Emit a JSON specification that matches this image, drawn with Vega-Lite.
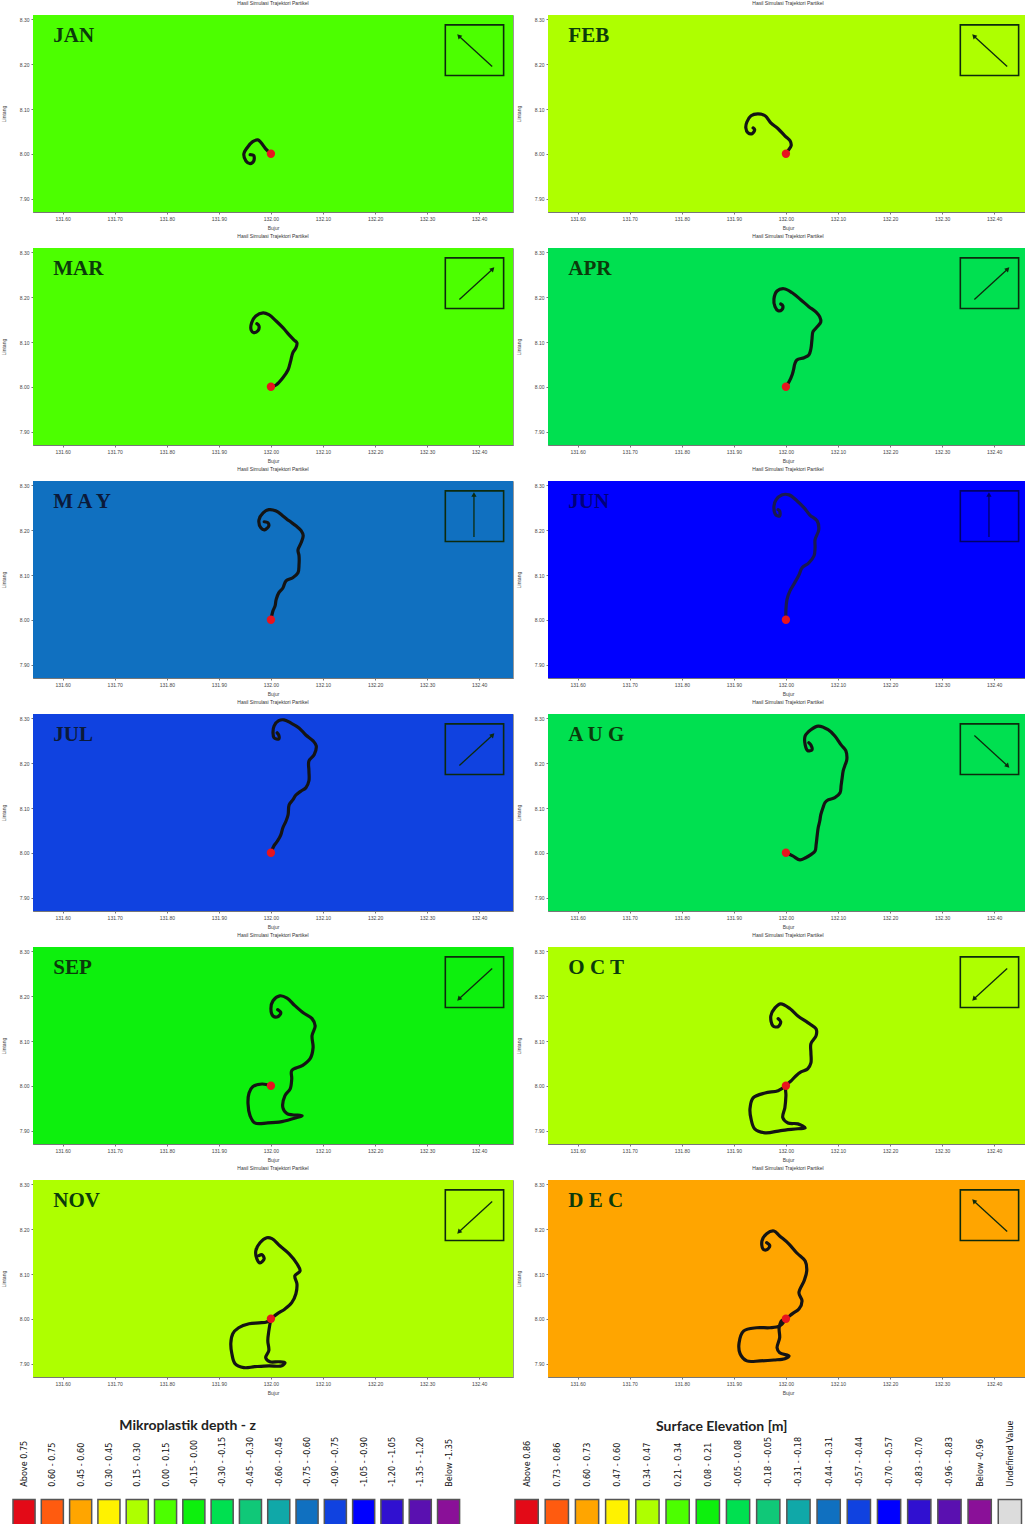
{
"$schema": "https://vega.github.io/schema/vega-lite/v6.json",
"padding": 0,
"background": "white",
"spacing": 23,
"columns": 1,
"align": "none",
"resolve": {"scale": {"x": "independent", "y": "independent", "color": "independent"}},
"config": {
  "view": {"stroke": "#999"},
  "axis": {"labelFontSize": 5, "titleFontSize": 5, "labelColor": "#444", "titleColor": "#444", "domainColor": "#777", "tickColor": "#777", "tickSize": 2, "gridColor": "#103a10", "gridOpacity": 0.22, "gridWidth": 0.6, "labelFont": "Liberation Sans", "titleFont": "Liberation Sans", "titleFontWeight": "normal", "zindex": 1, "labelOverlap": false},
  "axisY": {"minExtent": 26, "maxExtent": 26, "titlePadding": 1},
  "axisX": {"minExtent": 12, "maxExtent": 12, "titlePadding": 1}
},
"concat": [
{
  "data": {"values": [
    {"kind":"p","month":"JAN","label":"JAN","bg":"0.21 - 0.34","lon1":132.425,"lat1":8.195,"lon2":132.362,"lat2":8.262,"dir":315},
    {"kind":"p","month":"FEB","label":"FEB","bg":"0.34 - 0.47","lon1":132.425,"lat1":8.195,"lon2":132.362,"lat2":8.262,"dir":315},
    {"kind":"p","month":"MAR","label":"MAR","bg":"0.21 - 0.34","lon1":132.362,"lat1":8.195,"lon2":132.425,"lat2":8.262,"dir":45},
    {"kind":"p","month":"APR","label":"APR","bg":"-0.05 - 0.08","lon1":132.362,"lat1":8.195,"lon2":132.425,"lat2":8.262,"dir":45},
    {"kind":"p","month":"MAY","label":"M A Y","bg":"-0.44 - -0.31","lon1":132.39,"lat1":8.185,"lon2":132.39,"lat2":8.278,"dir":0},
    {"kind":"p","month":"JUN","label":"JUN","bg":"-0.70 - -0.57","lon1":132.39,"lat1":8.185,"lon2":132.39,"lat2":8.278,"dir":0},
    {"kind":"p","month":"JUL","label":"JUL","bg":"-0.57 - -0.44","lon1":132.362,"lat1":8.195,"lon2":132.425,"lat2":8.262,"dir":45},
    {"kind":"p","month":"AUG","label":"A U G","bg":"-0.05 - 0.08","lon1":132.362,"lat1":8.262,"lon2":132.425,"lat2":8.195,"dir":135},
    {"kind":"p","month":"SEP","label":"SEP","bg":"0.08 - 0.21","lon1":132.425,"lat1":8.262,"lon2":132.362,"lat2":8.195,"dir":225},
    {"kind":"p","month":"OCT","label":"O C T","bg":"0.34 - 0.47","lon1":132.425,"lat1":8.262,"lon2":132.362,"lat2":8.195,"dir":225},
    {"kind":"p","month":"NOV","label":"NOV","bg":"0.34 - 0.47","lon1":132.425,"lat1":8.262,"lon2":132.362,"lat2":8.195,"dir":225},
    {"kind":"p","month":"DEC","label":"D E C","bg":"0.60 - 0.73","lon1":132.425,"lat1":8.195,"lon2":132.362,"lat2":8.262,"dir":315},

    {"kind":"t","month":"JAN","i":0,"lon":132.000,"lat":8.000},
    {"kind":"t","month":"JAN","i":1,"lon":131.990,"lat":8.011},
    {"kind":"t","month":"JAN","i":2,"lon":131.981,"lat":8.025},
    {"kind":"t","month":"JAN","i":3,"lon":131.975,"lat":8.031},
    {"kind":"t","month":"JAN","i":4,"lon":131.965,"lat":8.027},
    {"kind":"t","month":"JAN","i":5,"lon":131.954,"lat":8.013},
    {"kind":"t","month":"JAN","i":6,"lon":131.948,"lat":8.000},
    {"kind":"t","month":"JAN","i":7,"lon":131.952,"lat":7.984},
    {"kind":"t","month":"JAN","i":8,"lon":131.960,"lat":7.978},
    {"kind":"t","month":"JAN","i":9,"lon":131.967,"lat":7.984},
    {"kind":"t","month":"JAN","i":10,"lon":131.967,"lat":7.996},
    {"kind":"t","month":"JAN","i":11,"lon":131.960,"lat":7.998},

    {"kind":"t","month":"FEB","i":0,"lon":132.000,"lat":8.000},
    {"kind":"t","month":"FEB","i":1,"lon":132.004,"lat":8.007},
    {"kind":"t","month":"FEB","i":2,"lon":132.010,"lat":8.018},
    {"kind":"t","month":"FEB","i":3,"lon":132.008,"lat":8.029},
    {"kind":"t","month":"FEB","i":4,"lon":131.998,"lat":8.040},
    {"kind":"t","month":"FEB","i":5,"lon":131.985,"lat":8.056},
    {"kind":"t","month":"FEB","i":6,"lon":131.971,"lat":8.069},
    {"kind":"t","month":"FEB","i":7,"lon":131.960,"lat":8.085},
    {"kind":"t","month":"FEB","i":8,"lon":131.946,"lat":8.089},
    {"kind":"t","month":"FEB","i":9,"lon":131.933,"lat":8.085},
    {"kind":"t","month":"FEB","i":10,"lon":131.925,"lat":8.071},
    {"kind":"t","month":"FEB","i":11,"lon":131.923,"lat":8.058},
    {"kind":"t","month":"FEB","i":12,"lon":131.927,"lat":8.047},
    {"kind":"t","month":"FEB","i":13,"lon":131.935,"lat":8.045},
    {"kind":"t","month":"FEB","i":14,"lon":131.940,"lat":8.054},
    {"kind":"t","month":"FEB","i":15,"lon":131.937,"lat":8.058},

    {"kind":"t","month":"MAR","i":0,"lon":132.000,"lat":8.000},
    {"kind":"t","month":"MAR","i":1,"lon":132.010,"lat":8.004},
    {"kind":"t","month":"MAR","i":2,"lon":132.023,"lat":8.020},
    {"kind":"t","month":"MAR","i":3,"lon":132.033,"lat":8.038},
    {"kind":"t","month":"MAR","i":4,"lon":132.038,"lat":8.058},
    {"kind":"t","month":"MAR","i":5,"lon":132.042,"lat":8.076},
    {"kind":"t","month":"MAR","i":6,"lon":132.048,"lat":8.087},
    {"kind":"t","month":"MAR","i":7,"lon":132.050,"lat":8.098},
    {"kind":"t","month":"MAR","i":8,"lon":132.044,"lat":8.105},
    {"kind":"t","month":"MAR","i":9,"lon":132.035,"lat":8.116},
    {"kind":"t","month":"MAR","i":10,"lon":132.023,"lat":8.132},
    {"kind":"t","month":"MAR","i":11,"lon":132.010,"lat":8.147},
    {"kind":"t","month":"MAR","i":12,"lon":131.996,"lat":8.161},
    {"kind":"t","month":"MAR","i":13,"lon":131.985,"lat":8.165},
    {"kind":"t","month":"MAR","i":14,"lon":131.971,"lat":8.158},
    {"kind":"t","month":"MAR","i":15,"lon":131.963,"lat":8.143},
    {"kind":"t","month":"MAR","i":16,"lon":131.962,"lat":8.127},
    {"kind":"t","month":"MAR","i":17,"lon":131.967,"lat":8.121},
    {"kind":"t","month":"MAR","i":18,"lon":131.975,"lat":8.125},
    {"kind":"t","month":"MAR","i":19,"lon":131.977,"lat":8.136},
    {"kind":"t","month":"MAR","i":20,"lon":131.973,"lat":8.141},

    {"kind":"t","month":"APR","i":0,"lon":132.000,"lat":8.000},
    {"kind":"t","month":"APR","i":1,"lon":132.006,"lat":8.011},
    {"kind":"t","month":"APR","i":2,"lon":132.012,"lat":8.027},
    {"kind":"t","month":"APR","i":3,"lon":132.015,"lat":8.040},
    {"kind":"t","month":"APR","i":4,"lon":132.017,"lat":8.051},
    {"kind":"t","month":"APR","i":5,"lon":132.021,"lat":8.060},
    {"kind":"t","month":"APR","i":6,"lon":132.035,"lat":8.065},
    {"kind":"t","month":"APR","i":7,"lon":132.044,"lat":8.071},
    {"kind":"t","month":"APR","i":8,"lon":132.048,"lat":8.085},
    {"kind":"t","month":"APR","i":9,"lon":132.050,"lat":8.105},
    {"kind":"t","month":"APR","i":10,"lon":132.052,"lat":8.123},
    {"kind":"t","month":"APR","i":11,"lon":132.060,"lat":8.134},
    {"kind":"t","month":"APR","i":12,"lon":132.067,"lat":8.145},
    {"kind":"t","month":"APR","i":13,"lon":132.065,"lat":8.156},
    {"kind":"t","month":"APR","i":14,"lon":132.058,"lat":8.167},
    {"kind":"t","month":"APR","i":15,"lon":132.044,"lat":8.179},
    {"kind":"t","month":"APR","i":16,"lon":132.029,"lat":8.194},
    {"kind":"t","month":"APR","i":17,"lon":132.012,"lat":8.210},
    {"kind":"t","month":"APR","i":18,"lon":131.996,"lat":8.219},
    {"kind":"t","month":"APR","i":19,"lon":131.983,"lat":8.214},
    {"kind":"t","month":"APR","i":20,"lon":131.977,"lat":8.196},
    {"kind":"t","month":"APR","i":21,"lon":131.979,"lat":8.179},
    {"kind":"t","month":"APR","i":22,"lon":131.985,"lat":8.170},
    {"kind":"t","month":"APR","i":23,"lon":131.992,"lat":8.172},
    {"kind":"t","month":"APR","i":24,"lon":131.994,"lat":8.181},
    {"kind":"t","month":"APR","i":25,"lon":131.990,"lat":8.185},

    {"kind":"t","month":"MAY","i":0,"lon":132.000,"lat":8.000},
    {"kind":"t","month":"MAY","i":1,"lon":132.004,"lat":8.020},
    {"kind":"t","month":"MAY","i":2,"lon":132.008,"lat":8.031},
    {"kind":"t","month":"MAY","i":3,"lon":132.010,"lat":8.045},
    {"kind":"t","month":"MAY","i":4,"lon":132.015,"lat":8.060},
    {"kind":"t","month":"MAY","i":5,"lon":132.023,"lat":8.071},
    {"kind":"t","month":"MAY","i":6,"lon":132.029,"lat":8.087},
    {"kind":"t","month":"MAY","i":7,"lon":132.042,"lat":8.094},
    {"kind":"t","month":"MAY","i":8,"lon":132.052,"lat":8.105},
    {"kind":"t","month":"MAY","i":9,"lon":132.054,"lat":8.123},
    {"kind":"t","month":"MAY","i":10,"lon":132.054,"lat":8.143},
    {"kind":"t","month":"MAY","i":11,"lon":132.052,"lat":8.156},
    {"kind":"t","month":"MAY","i":12,"lon":132.058,"lat":8.172},
    {"kind":"t","month":"MAY","i":13,"lon":132.062,"lat":8.188},
    {"kind":"t","month":"MAY","i":14,"lon":132.058,"lat":8.199},
    {"kind":"t","month":"MAY","i":15,"lon":132.048,"lat":8.210},
    {"kind":"t","month":"MAY","i":16,"lon":132.035,"lat":8.221},
    {"kind":"t","month":"MAY","i":17,"lon":132.023,"lat":8.232},
    {"kind":"t","month":"MAY","i":18,"lon":132.010,"lat":8.243},
    {"kind":"t","month":"MAY","i":19,"lon":131.996,"lat":8.246},
    {"kind":"t","month":"MAY","i":20,"lon":131.985,"lat":8.239},
    {"kind":"t","month":"MAY","i":21,"lon":131.977,"lat":8.223},
    {"kind":"t","month":"MAY","i":22,"lon":131.981,"lat":8.205},
    {"kind":"t","month":"MAY","i":23,"lon":131.988,"lat":8.201},
    {"kind":"t","month":"MAY","i":24,"lon":131.996,"lat":8.210},
    {"kind":"t","month":"MAY","i":25,"lon":131.994,"lat":8.217},
    {"kind":"t","month":"MAY","i":26,"lon":131.987,"lat":8.219},

    {"kind":"t","month":"JUN","i":0,"lon":132.000,"lat":8.000},
    {"kind":"t","month":"JUN","i":1,"lon":132.000,"lat":8.022},
    {"kind":"t","month":"JUN","i":2,"lon":132.002,"lat":8.045},
    {"kind":"t","month":"JUN","i":3,"lon":132.008,"lat":8.065},
    {"kind":"t","month":"JUN","i":4,"lon":132.017,"lat":8.083},
    {"kind":"t","month":"JUN","i":5,"lon":132.025,"lat":8.100},
    {"kind":"t","month":"JUN","i":6,"lon":132.031,"lat":8.116},
    {"kind":"t","month":"JUN","i":7,"lon":132.044,"lat":8.127},
    {"kind":"t","month":"JUN","i":8,"lon":132.054,"lat":8.143},
    {"kind":"t","month":"JUN","i":9,"lon":132.056,"lat":8.161},
    {"kind":"t","month":"JUN","i":10,"lon":132.056,"lat":8.179},
    {"kind":"t","month":"JUN","i":11,"lon":132.063,"lat":8.201},
    {"kind":"t","month":"JUN","i":12,"lon":132.060,"lat":8.221},
    {"kind":"t","month":"JUN","i":13,"lon":132.046,"lat":8.234},
    {"kind":"t","month":"JUN","i":14,"lon":132.035,"lat":8.250},
    {"kind":"t","month":"JUN","i":15,"lon":132.021,"lat":8.266},
    {"kind":"t","month":"JUN","i":16,"lon":132.006,"lat":8.279},
    {"kind":"t","month":"JUN","i":17,"lon":131.992,"lat":8.279},
    {"kind":"t","month":"JUN","i":18,"lon":131.981,"lat":8.268},
    {"kind":"t","month":"JUN","i":19,"lon":131.977,"lat":8.254},
    {"kind":"t","month":"JUN","i":20,"lon":131.981,"lat":8.234},
    {"kind":"t","month":"JUN","i":21,"lon":131.988,"lat":8.232},
    {"kind":"t","month":"JUN","i":22,"lon":131.988,"lat":8.243},
    {"kind":"t","month":"JUN","i":23,"lon":131.985,"lat":8.246},

    {"kind":"t","month":"JUL","i":0,"lon":132.000,"lat":8.000},
    {"kind":"t","month":"JUL","i":1,"lon":132.006,"lat":8.016},
    {"kind":"t","month":"JUL","i":2,"lon":132.013,"lat":8.027},
    {"kind":"t","month":"JUL","i":3,"lon":132.019,"lat":8.040},
    {"kind":"t","month":"JUL","i":4,"lon":132.023,"lat":8.056},
    {"kind":"t","month":"JUL","i":5,"lon":132.029,"lat":8.071},
    {"kind":"t","month":"JUL","i":6,"lon":132.033,"lat":8.085},
    {"kind":"t","month":"JUL","i":7,"lon":132.035,"lat":8.107},
    {"kind":"t","month":"JUL","i":8,"lon":132.042,"lat":8.118},
    {"kind":"t","month":"JUL","i":9,"lon":132.048,"lat":8.129},
    {"kind":"t","month":"JUL","i":10,"lon":132.058,"lat":8.138},
    {"kind":"t","month":"JUL","i":11,"lon":132.067,"lat":8.145},
    {"kind":"t","month":"JUL","i":12,"lon":132.073,"lat":8.161},
    {"kind":"t","month":"JUL","i":13,"lon":132.073,"lat":8.183},
    {"kind":"t","month":"JUL","i":14,"lon":132.073,"lat":8.205},
    {"kind":"t","month":"JUL","i":15,"lon":132.083,"lat":8.219},
    {"kind":"t","month":"JUL","i":16,"lon":132.087,"lat":8.239},
    {"kind":"t","month":"JUL","i":17,"lon":132.081,"lat":8.250},
    {"kind":"t","month":"JUL","i":18,"lon":132.067,"lat":8.263},
    {"kind":"t","month":"JUL","i":19,"lon":132.054,"lat":8.279},
    {"kind":"t","month":"JUL","i":20,"lon":132.038,"lat":8.290},
    {"kind":"t","month":"JUL","i":21,"lon":132.025,"lat":8.297},
    {"kind":"t","month":"JUL","i":22,"lon":132.015,"lat":8.295},
    {"kind":"t","month":"JUL","i":23,"lon":132.006,"lat":8.283},
    {"kind":"t","month":"JUL","i":24,"lon":132.004,"lat":8.268},
    {"kind":"t","month":"JUL","i":25,"lon":132.006,"lat":8.257},
    {"kind":"t","month":"JUL","i":26,"lon":132.015,"lat":8.254},
    {"kind":"t","month":"JUL","i":27,"lon":132.015,"lat":8.263},
    {"kind":"t","month":"JUL","i":28,"lon":132.012,"lat":8.268},

    {"kind":"t","month":"AUG","i":0,"lon":132.000,"lat":8.000},
    {"kind":"t","month":"AUG","i":1,"lon":132.013,"lat":7.993},
    {"kind":"t","month":"AUG","i":2,"lon":132.027,"lat":7.984},
    {"kind":"t","month":"AUG","i":3,"lon":132.038,"lat":7.989},
    {"kind":"t","month":"AUG","i":4,"lon":132.048,"lat":7.996},
    {"kind":"t","month":"AUG","i":5,"lon":132.056,"lat":8.004},
    {"kind":"t","month":"AUG","i":6,"lon":132.058,"lat":8.018},
    {"kind":"t","month":"AUG","i":7,"lon":132.060,"lat":8.038},
    {"kind":"t","month":"AUG","i":8,"lon":132.062,"lat":8.056},
    {"kind":"t","month":"AUG","i":9,"lon":132.065,"lat":8.071},
    {"kind":"t","month":"AUG","i":10,"lon":132.067,"lat":8.085},
    {"kind":"t","month":"AUG","i":11,"lon":132.071,"lat":8.100},
    {"kind":"t","month":"AUG","i":12,"lon":132.075,"lat":8.112},
    {"kind":"t","month":"AUG","i":13,"lon":132.081,"lat":8.118},
    {"kind":"t","month":"AUG","i":14,"lon":132.094,"lat":8.123},
    {"kind":"t","month":"AUG","i":15,"lon":132.104,"lat":8.134},
    {"kind":"t","month":"AUG","i":16,"lon":132.106,"lat":8.150},
    {"kind":"t","month":"AUG","i":17,"lon":132.108,"lat":8.167},
    {"kind":"t","month":"AUG","i":18,"lon":132.110,"lat":8.183},
    {"kind":"t","month":"AUG","i":19,"lon":132.113,"lat":8.194},
    {"kind":"t","month":"AUG","i":20,"lon":132.117,"lat":8.208},
    {"kind":"t","month":"AUG","i":21,"lon":132.115,"lat":8.228},
    {"kind":"t","month":"AUG","i":22,"lon":132.106,"lat":8.241},
    {"kind":"t","month":"AUG","i":23,"lon":132.094,"lat":8.261},
    {"kind":"t","month":"AUG","i":24,"lon":132.081,"lat":8.275},
    {"kind":"t","month":"AUG","i":25,"lon":132.062,"lat":8.283},
    {"kind":"t","month":"AUG","i":26,"lon":132.048,"lat":8.275},
    {"kind":"t","month":"AUG","i":27,"lon":132.037,"lat":8.261},
    {"kind":"t","month":"AUG","i":28,"lon":132.037,"lat":8.241},
    {"kind":"t","month":"AUG","i":29,"lon":132.042,"lat":8.228},
    {"kind":"t","month":"AUG","i":30,"lon":132.050,"lat":8.230},
    {"kind":"t","month":"AUG","i":31,"lon":132.048,"lat":8.241},
    {"kind":"t","month":"AUG","i":32,"lon":132.044,"lat":8.246},

    {"kind":"t","month":"SEP","i":0,"lon":132.000,"lat":8.000},
    {"kind":"t","month":"SEP","i":1,"lon":131.983,"lat":8.004},
    {"kind":"t","month":"SEP","i":2,"lon":131.965,"lat":7.998},
    {"kind":"t","month":"SEP","i":3,"lon":131.958,"lat":7.984},
    {"kind":"t","month":"SEP","i":4,"lon":131.956,"lat":7.960},
    {"kind":"t","month":"SEP","i":5,"lon":131.960,"lat":7.933},
    {"kind":"t","month":"SEP","i":6,"lon":131.969,"lat":7.917},
    {"kind":"t","month":"SEP","i":7,"lon":131.994,"lat":7.917},
    {"kind":"t","month":"SEP","i":8,"lon":132.021,"lat":7.920},
    {"kind":"t","month":"SEP","i":9,"lon":132.050,"lat":7.929},
    {"kind":"t","month":"SEP","i":10,"lon":132.060,"lat":7.933},
    {"kind":"t","month":"SEP","i":11,"lon":132.031,"lat":7.938},
    {"kind":"t","month":"SEP","i":12,"lon":132.023,"lat":7.951},
    {"kind":"t","month":"SEP","i":13,"lon":132.027,"lat":7.978},
    {"kind":"t","month":"SEP","i":14,"lon":132.037,"lat":7.993},
    {"kind":"t","month":"SEP","i":15,"lon":132.040,"lat":8.016},
    {"kind":"t","month":"SEP","i":16,"lon":132.040,"lat":8.034},
    {"kind":"t","month":"SEP","i":17,"lon":132.060,"lat":8.045},
    {"kind":"t","month":"SEP","i":18,"lon":132.075,"lat":8.060},
    {"kind":"t","month":"SEP","i":19,"lon":132.081,"lat":8.085},
    {"kind":"t","month":"SEP","i":20,"lon":132.079,"lat":8.112},
    {"kind":"t","month":"SEP","i":21,"lon":132.085,"lat":8.134},
    {"kind":"t","month":"SEP","i":22,"lon":132.079,"lat":8.150},
    {"kind":"t","month":"SEP","i":23,"lon":132.062,"lat":8.163},
    {"kind":"t","month":"SEP","i":24,"lon":132.046,"lat":8.179},
    {"kind":"t","month":"SEP","i":25,"lon":132.031,"lat":8.196},
    {"kind":"t","month":"SEP","i":26,"lon":132.017,"lat":8.201},
    {"kind":"t","month":"SEP","i":27,"lon":132.004,"lat":8.190},
    {"kind":"t","month":"SEP","i":28,"lon":132.000,"lat":8.172},
    {"kind":"t","month":"SEP","i":29,"lon":132.004,"lat":8.156},
    {"kind":"t","month":"SEP","i":30,"lon":132.013,"lat":8.154},
    {"kind":"t","month":"SEP","i":31,"lon":132.019,"lat":8.163},
    {"kind":"t","month":"SEP","i":32,"lon":132.013,"lat":8.170},

    {"kind":"t","month":"OCT","i":0,"lon":132.000,"lat":8.000},
    {"kind":"t","month":"OCT","i":1,"lon":131.985,"lat":7.989},
    {"kind":"t","month":"OCT","i":2,"lon":131.960,"lat":7.984},
    {"kind":"t","month":"OCT","i":3,"lon":131.937,"lat":7.973},
    {"kind":"t","month":"OCT","i":4,"lon":131.931,"lat":7.949},
    {"kind":"t","month":"OCT","i":5,"lon":131.933,"lat":7.926},
    {"kind":"t","month":"OCT","i":6,"lon":131.940,"lat":7.904},
    {"kind":"t","month":"OCT","i":7,"lon":131.960,"lat":7.895},
    {"kind":"t","month":"OCT","i":8,"lon":131.990,"lat":7.900},
    {"kind":"t","month":"OCT","i":9,"lon":132.023,"lat":7.904},
    {"kind":"t","month":"OCT","i":10,"lon":132.037,"lat":7.906},
    {"kind":"t","month":"OCT","i":11,"lon":132.023,"lat":7.915},
    {"kind":"t","month":"OCT","i":12,"lon":132.004,"lat":7.917},
    {"kind":"t","month":"OCT","i":13,"lon":131.994,"lat":7.929},
    {"kind":"t","month":"OCT","i":14,"lon":131.998,"lat":7.951},
    {"kind":"t","month":"OCT","i":15,"lon":132.000,"lat":7.978},
    {"kind":"t","month":"OCT","i":16,"lon":132.000,"lat":8.000},
    {"kind":"t","month":"OCT","i":17,"lon":132.010,"lat":8.011},
    {"kind":"t","month":"OCT","i":18,"lon":132.019,"lat":8.022},
    {"kind":"t","month":"OCT","i":19,"lon":132.029,"lat":8.031},
    {"kind":"t","month":"OCT","i":20,"lon":132.042,"lat":8.038},
    {"kind":"t","month":"OCT","i":21,"lon":132.048,"lat":8.051},
    {"kind":"t","month":"OCT","i":22,"lon":132.048,"lat":8.074},
    {"kind":"t","month":"OCT","i":23,"lon":132.048,"lat":8.094},
    {"kind":"t","month":"OCT","i":24,"lon":132.058,"lat":8.112},
    {"kind":"t","month":"OCT","i":25,"lon":132.058,"lat":8.127},
    {"kind":"t","month":"OCT","i":26,"lon":132.042,"lat":8.141},
    {"kind":"t","month":"OCT","i":27,"lon":132.023,"lat":8.156},
    {"kind":"t","month":"OCT","i":28,"lon":132.008,"lat":8.172},
    {"kind":"t","month":"OCT","i":29,"lon":131.990,"lat":8.183},
    {"kind":"t","month":"OCT","i":30,"lon":131.979,"lat":8.174},
    {"kind":"t","month":"OCT","i":31,"lon":131.971,"lat":8.156},
    {"kind":"t","month":"OCT","i":32,"lon":131.975,"lat":8.134},
    {"kind":"t","month":"OCT","i":33,"lon":131.985,"lat":8.132},
    {"kind":"t","month":"OCT","i":34,"lon":131.990,"lat":8.143},
    {"kind":"t","month":"OCT","i":35,"lon":131.985,"lat":8.150},

    {"kind":"t","month":"NOV","i":0,"lon":132.000,"lat":8.000},
    {"kind":"t","month":"NOV","i":1,"lon":131.996,"lat":7.973},
    {"kind":"t","month":"NOV","i":2,"lon":131.994,"lat":7.951},
    {"kind":"t","month":"NOV","i":3,"lon":131.996,"lat":7.929},
    {"kind":"t","month":"NOV","i":4,"lon":131.990,"lat":7.913},
    {"kind":"t","month":"NOV","i":5,"lon":131.998,"lat":7.904},
    {"kind":"t","month":"NOV","i":6,"lon":132.015,"lat":7.904},
    {"kind":"t","month":"NOV","i":7,"lon":132.027,"lat":7.902},
    {"kind":"t","month":"NOV","i":8,"lon":132.021,"lat":7.895},
    {"kind":"t","month":"NOV","i":9,"lon":131.996,"lat":7.895},
    {"kind":"t","month":"NOV","i":10,"lon":131.969,"lat":7.893},
    {"kind":"t","month":"NOV","i":11,"lon":131.948,"lat":7.891},
    {"kind":"t","month":"NOV","i":12,"lon":131.931,"lat":7.900},
    {"kind":"t","month":"NOV","i":13,"lon":131.925,"lat":7.922},
    {"kind":"t","month":"NOV","i":14,"lon":131.923,"lat":7.946},
    {"kind":"t","month":"NOV","i":15,"lon":131.927,"lat":7.967},
    {"kind":"t","month":"NOV","i":16,"lon":131.938,"lat":7.980},
    {"kind":"t","month":"NOV","i":17,"lon":131.958,"lat":7.989},
    {"kind":"t","month":"NOV","i":18,"lon":131.977,"lat":7.991},
    {"kind":"t","month":"NOV","i":19,"lon":131.992,"lat":7.993},
    {"kind":"t","month":"NOV","i":20,"lon":132.000,"lat":8.000},
    {"kind":"t","month":"NOV","i":21,"lon":132.012,"lat":8.011},
    {"kind":"t","month":"NOV","i":22,"lon":132.027,"lat":8.022},
    {"kind":"t","month":"NOV","i":23,"lon":132.040,"lat":8.036},
    {"kind":"t","month":"NOV","i":24,"lon":132.048,"lat":8.056},
    {"kind":"t","month":"NOV","i":25,"lon":132.050,"lat":8.078},
    {"kind":"t","month":"NOV","i":26,"lon":132.046,"lat":8.096},
    {"kind":"t","month":"NOV","i":27,"lon":132.056,"lat":8.107},
    {"kind":"t","month":"NOV","i":28,"lon":132.050,"lat":8.123},
    {"kind":"t","month":"NOV","i":29,"lon":132.035,"lat":8.145},
    {"kind":"t","month":"NOV","i":30,"lon":132.017,"lat":8.163},
    {"kind":"t","month":"NOV","i":31,"lon":132.002,"lat":8.179},
    {"kind":"t","month":"NOV","i":32,"lon":131.992,"lat":8.181},
    {"kind":"t","month":"NOV","i":33,"lon":131.979,"lat":8.170},
    {"kind":"t","month":"NOV","i":34,"lon":131.971,"lat":8.152},
    {"kind":"t","month":"NOV","i":35,"lon":131.973,"lat":8.134},
    {"kind":"t","month":"NOV","i":36,"lon":131.979,"lat":8.125},
    {"kind":"t","month":"NOV","i":37,"lon":131.987,"lat":8.134},
    {"kind":"t","month":"NOV","i":38,"lon":131.983,"lat":8.143},
    {"kind":"t","month":"NOV","i":39,"lon":131.977,"lat":8.141},

    {"kind":"t","month":"DEC","i":0,"lon":132.000,"lat":8.000},
    {"kind":"t","month":"DEC","i":1,"lon":131.988,"lat":7.984},
    {"kind":"t","month":"DEC","i":2,"lon":131.969,"lat":7.980},
    {"kind":"t","month":"DEC","i":3,"lon":131.944,"lat":7.980},
    {"kind":"t","month":"DEC","i":4,"lon":131.919,"lat":7.973},
    {"kind":"t","month":"DEC","i":5,"lon":131.910,"lat":7.946},
    {"kind":"t","month":"DEC","i":6,"lon":131.912,"lat":7.922},
    {"kind":"t","month":"DEC","i":7,"lon":131.925,"lat":7.906},
    {"kind":"t","month":"DEC","i":8,"lon":131.950,"lat":7.906},
    {"kind":"t","month":"DEC","i":9,"lon":131.977,"lat":7.908},
    {"kind":"t","month":"DEC","i":10,"lon":131.998,"lat":7.911},
    {"kind":"t","month":"DEC","i":11,"lon":132.006,"lat":7.917},
    {"kind":"t","month":"DEC","i":12,"lon":131.988,"lat":7.924},
    {"kind":"t","month":"DEC","i":13,"lon":131.983,"lat":7.935},
    {"kind":"t","month":"DEC","i":14,"lon":131.988,"lat":7.958},
    {"kind":"t","month":"DEC","i":15,"lon":131.987,"lat":7.980},
    {"kind":"t","month":"DEC","i":16,"lon":131.992,"lat":7.996},
    {"kind":"t","month":"DEC","i":17,"lon":132.000,"lat":8.000},
    {"kind":"t","month":"DEC","i":18,"lon":132.012,"lat":8.011},
    {"kind":"t","month":"DEC","i":19,"lon":132.025,"lat":8.022},
    {"kind":"t","month":"DEC","i":20,"lon":132.031,"lat":8.040},
    {"kind":"t","month":"DEC","i":21,"lon":132.025,"lat":8.058},
    {"kind":"t","month":"DEC","i":22,"lon":132.035,"lat":8.085},
    {"kind":"t","month":"DEC","i":23,"lon":132.040,"lat":8.107},
    {"kind":"t","month":"DEC","i":24,"lon":132.037,"lat":8.129},
    {"kind":"t","month":"DEC","i":25,"lon":132.021,"lat":8.147},
    {"kind":"t","month":"DEC","i":26,"lon":132.006,"lat":8.167},
    {"kind":"t","month":"DEC","i":27,"lon":131.988,"lat":8.185},
    {"kind":"t","month":"DEC","i":28,"lon":131.977,"lat":8.196},
    {"kind":"t","month":"DEC","i":29,"lon":131.963,"lat":8.190},
    {"kind":"t","month":"DEC","i":30,"lon":131.954,"lat":8.174},
    {"kind":"t","month":"DEC","i":31,"lon":131.956,"lat":8.156},
    {"kind":"t","month":"DEC","i":32,"lon":131.963,"lat":8.154},
    {"kind":"t","month":"DEC","i":33,"lon":131.969,"lat":8.163},
    {"kind":"t","month":"DEC","i":34,"lon":131.963,"lat":8.170}
  ]},
  "facet": {"field": "month", "type": "nominal", "sort": ["JAN","FEB","MAR","APR","MAY","JUN","JUL","AUG","SEP","OCT","NOV","DEC"],
    "header": {"title": null, "labelExpr": "'Hasil Simulasi Trajektori Partikel'", "labelFontSize": 5, "labelColor": "#333", "labelPadding": 9, "labelFont": "Liberation Sans"}},
  "columns": 2,
  "spacing": {"row": 2, "column": 1},
  "resolve": {"axis": {"x": "independent", "y": "independent"}},
  "spec": {
    "width": 480,
    "height": 197,
    "layer": [
      {"transform": [{"filter": "datum.kind == 'p'"}],
       "mark": {"type": "rect"},
       "encoding": {
         "x": {"datum": 131.543, "type": "quantitative", "scale": {"domain": [131.543, 132.465], "nice": false, "zero": false},
               "axis": {"title": "Bujur", "values": [131.6,131.7,131.8,131.9,132.0,132.1,132.2,132.3,132.4], "format": ".2f"}},
         "x2": {"datum": 132.465},
         "y": {"datum": 7.87, "type": "quantitative", "scale": {"domain": [7.87, 8.31], "nice": false, "zero": false},
               "axis": {"title": "Lintang", "values": [7.9,7.95,8.0,8.05,8.1,8.15,8.2,8.25,8.3], "format": ".2f"}},
         "y2": {"datum": 8.31},
         "color": {"field": "bg", "type": "nominal", "legend": null,
           "scale": {"domain": ["Above 0.86","0.73 - 0.86","0.60 - 0.73","0.47 - 0.60","0.34 - 0.47","0.21 - 0.34","0.08 - 0.21","-0.05 - 0.08","-0.18 - -0.05","-0.31 - -0.18","-0.44 - -0.31","-0.57 - -0.44","-0.70 - -0.57","-0.83 - -0.70","-0.96 - -0.83","Below -0.96","Undefined Value"],
                     "range": ["#E30A17","#FF5B0F","#FFA500","#FFF200","#AEFF00","#4CFF00","#0DF00D","#00E050","#10C878","#10A8A8","#1070C0","#1042E0","#0000FF","#3010D0","#5A10B0","#8A1098","#DCDCDC"]}}
       }},
      {"transform": [{"filter": "datum.kind == 't'"}],
       "mark": {"type": "line", "strokeWidth": 3.2, "interpolate": "catmull-rom", "strokeCap": "round", "strokeJoin": "round"},
       "encoding": {
         "x": {"field": "lon", "type": "quantitative", "title": "Bujur"},
         "y": {"field": "lat", "type": "quantitative", "title": "Lintang"},
         "order": {"field": "i", "type": "quantitative"},
         "stroke": {"condition": {"test": "datum.month == 'JUN'", "value": "#1a1a50"}, "value": "#141414"}
       }},
      {"transform": [{"filter": "datum.kind == 't' && datum.i == 0"}],
       "mark": {"type": "point", "filled": true, "color": "#E8141E", "size": 70, "opacity": 1},
       "encoding": {
         "x": {"field": "lon", "type": "quantitative", "title": "Bujur"},
         "y": {"field": "lat", "type": "quantitative", "title": "Lintang"}
       }},
      {"transform": [{"filter": "datum.kind == 'p'"}],
       "mark": {"type": "text", "font": "Liberation Serif", "fontWeight": "bold", "fontSize": 21, "align": "left", "baseline": "middle"},
       "encoding": {
         "x": {"datum": 131.582, "type": "quantitative"},
         "y": {"datum": 8.262, "type": "quantitative"},
         "text": {"field": "label"},
         "color": {"condition": [{"test": "datum.month == 'JUN'", "value": "#00007a"}, {"test": "datum.month == 'MAY' || datum.month == 'JUL'", "value": "#0b1a3a"}], "value": "#0b3b0b"}
       }},
      {"transform": [{"filter": "datum.kind == 'p'"}],
       "mark": {"type": "rect", "fillOpacity": 0, "strokeWidth": 1.6},
       "encoding": {
         "x": {"datum": 132.335, "type": "quantitative"},
         "x2": {"datum": 132.447},
         "y": {"datum": 8.175, "type": "quantitative"},
         "y2": {"datum": 8.288},
         "stroke": {"condition": {"test": "datum.month == 'JUN'", "value": "#00006a"}, "value": "#0d2a0d"}
       }},
      {"transform": [{"filter": "datum.kind == 'p'"}],
       "mark": {"type": "rule", "strokeWidth": 1.3},
       "encoding": {
         "x": {"field": "lon1", "type": "quantitative", "title": "Bujur"},
         "y": {"field": "lat1", "type": "quantitative", "title": "Lintang"},
         "x2": {"field": "lon2"},
         "y2": {"field": "lat2"},
         "color": {"condition": {"test": "datum.month == 'JUN'", "value": "#00006a"}, "value": "#0d2a0d"}
       }},
      {"transform": [{"filter": "datum.kind == 'p'"}],
       "mark": {"type": "point", "shape": "triangle", "filled": true, "size": 28, "opacity": 1},
       "encoding": {
         "x": {"field": "lon2", "type": "quantitative", "title": "Bujur"},
         "y": {"field": "lat2", "type": "quantitative", "title": "Lintang"},
         "angle": {"field": "dir", "type": "quantitative", "scale": {"domain": [0, 360], "range": [0, 360]}},
         "color": {"condition": {"test": "datum.month == 'JUN'", "value": "#00006a"}, "value": "#0d2a0d"}
       }}
    ]
  }
},
{
  "hconcat": [
    {
      "width": 440, "height": 91,
      "title": {"text": "Mikroplastik depth - z", "fontSize": 14, "font": "Lato", "fontWeight": "bold", "anchor": "start", "dx": 107, "offset": 1, "color": "#222"},
      "view": {"stroke": null},
      "data": {"values": [
        {"label":"Above 0.75"},{"label":"0.60 - 0.75"},{"label":"0.45 - 0.60"},{"label":"0.30 - 0.45"},
        {"label":"0.15 - 0.30"},{"label":"0.00 - 0.15"},{"label":"-0.15 - 0.00"},{"label":"-0.30 - -0.15"},
        {"label":"-0.45 - -0.30"},{"label":"-0.60 - -0.45"},{"label":"-0.75 - -0.60"},{"label":"-0.90 - -0.75"},
        {"label":"-1.05 - -0.90"},{"label":"-1.20 - -1.05"},{"label":"-1.35 - -1.20"},{"label":"Below -1.35"}
      ]},
      "encoding": {"x": {"field": "label", "type": "nominal", "sort": null, "axis": null, "scale": {"range": [-20, 426.6], "paddingInner": 0.22, "paddingOuter": 0}}},
      "layer": [
        {"mark": {"type": "rect", "stroke": "#555", "strokeWidth": 1.5},
         "encoding": {
           "y": {"datum": 0, "type": "quantitative", "scale": {"domain": [0, 1], "nice": false}, "axis": null},
           "y2": {"datum": 0.28},
           "color": {"field": "label", "type": "nominal", "legend": null,
             "scale": {"domain": ["Above 0.75","0.60 - 0.75","0.45 - 0.60","0.30 - 0.45","0.15 - 0.30","0.00 - 0.15","-0.15 - 0.00","-0.30 - -0.15","-0.45 - -0.30","-0.60 - -0.45","-0.75 - -0.60","-0.90 - -0.75","-1.05 - -0.90","-1.20 - -1.05","-1.35 - -1.20","Below -1.35"],
                       "range": ["#E30A17","#FF5B0F","#FFA500","#FFF200","#AEFF00","#4CFF00","#0DF00D","#00E050","#10C878","#10A8A8","#1070C0","#1042E0","#0000FF","#3010D0","#5A10B0","#8A1098"]}}
         }},
        {"mark": {"type": "text", "angle": 270, "align": "left", "baseline": "middle", "font": "Liberation Sans Narrow, DejaVu Sans Condensed, sans-serif", "fontSize": 9, "color": "#111"},
         "encoding": {
           "y": {"datum": 0.42, "type": "quantitative"},
           "text": {"field": "label"}
         }}
      ]
    },
    {
      "width": 522, "height": 91,
      "title": {"text": "Surface Elevation [m]", "fontSize": 14, "font": "Lato", "fontWeight": "bold", "anchor": "start", "dx": 153, "offset": -14, "color": "#222"},
      "view": {"stroke": null},
      "data": {"values": [
        {"label":"Above 0.86"},{"label":"0.73 - 0.86"},{"label":"0.60 - 0.73"},{"label":"0.47 - 0.60"},
        {"label":"0.34 - 0.47"},{"label":"0.21 - 0.34"},{"label":"0.08 - 0.21"},{"label":"-0.05 - 0.08"},
        {"label":"-0.18 - -0.05"},{"label":"-0.31 - -0.18"},{"label":"-0.44 - -0.31"},{"label":"-0.57 - -0.44"},
        {"label":"-0.70 - -0.57"},{"label":"-0.83 - -0.70"},{"label":"-0.96 - -0.83"},{"label":"Below -0.96"},{"label":"Undefined Value"}
      ]},
      "encoding": {"x": {"field": "label", "type": "nominal", "sort": null, "axis": null, "scale": {"range": [12, 518.5], "paddingInner": 0.23, "paddingOuter": 0}}},
      "layer": [
        {"mark": {"type": "rect", "stroke": "#555", "strokeWidth": 1.5},
         "encoding": {
           "y": {"datum": 0, "type": "quantitative", "scale": {"domain": [0, 1], "nice": false}, "axis": null},
           "y2": {"datum": 0.28},
           "color": {"field": "label", "type": "nominal", "legend": null,
             "scale": {"domain": ["Above 0.86","0.73 - 0.86","0.60 - 0.73","0.47 - 0.60","0.34 - 0.47","0.21 - 0.34","0.08 - 0.21","-0.05 - 0.08","-0.18 - -0.05","-0.31 - -0.18","-0.44 - -0.31","-0.57 - -0.44","-0.70 - -0.57","-0.83 - -0.70","-0.96 - -0.83","Below -0.96","Undefined Value"],
                       "range": ["#E30A17","#FF5B0F","#FFA500","#FFF200","#AEFF00","#4CFF00","#0DF00D","#00E050","#10C878","#10A8A8","#1070C0","#1042E0","#0000FF","#3010D0","#5A10B0","#8A1098","#DCDCDC"]}}
         }},
        {"mark": {"type": "text", "angle": 270, "align": "left", "baseline": "middle", "font": "Liberation Sans Narrow, DejaVu Sans Condensed, sans-serif", "fontSize": 9, "color": "#111"},
         "encoding": {
           "y": {"datum": 0.42, "type": "quantitative"},
           "text": {"field": "label"}
         }}
      ]
    }
  ],
  "spacing": 30,
  "resolve": {"scale": {"x": "independent", "y": "independent", "color": "independent"}}
}
]
}
